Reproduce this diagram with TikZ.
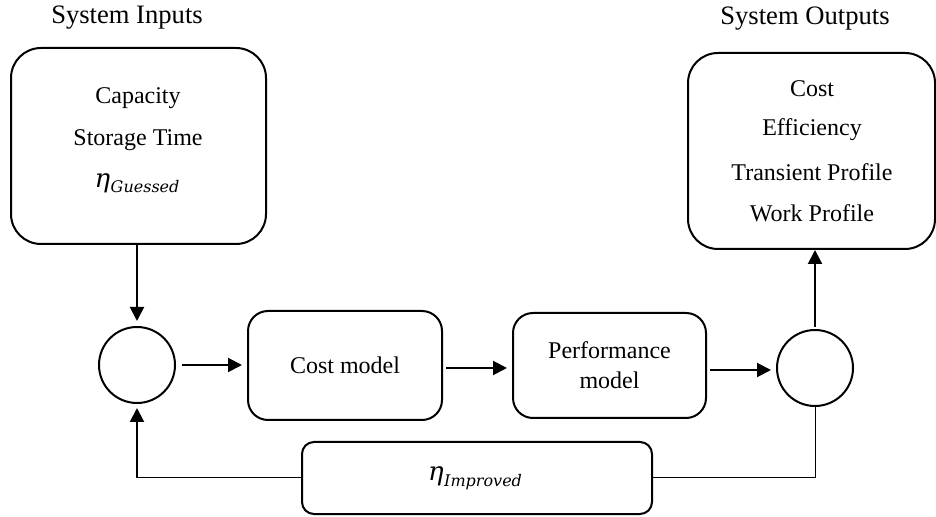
\documentclass[tikz,border=0pt]{standalone}
\usepackage{fontspec}
\setmainfont{Liberation Serif}
\newfontfamily\etafont{DejaVu Serif}
\usetikzlibrary{arrows.meta}
\newcommand{\etasub}[1]{{\etafont\itshape\fontsize{13}{14}\selectfont η}\kern0.3pt\raisebox{-2.8pt}{\etafont\itshape\fontsize{8}{9}\selectfont #1}}
\begin{document}
\begin{tikzpicture}[x=0.5pt,y=-0.5pt,
  font=\fontsize{12}{14}\selectfont,
  bigbox/.style={draw,line width=1pt,rounded corners=15pt,inner sep=0pt},
  modbox/.style={draw,line width=1pt,rounded corners=10pt,inner sep=0pt,align=center},
  sumnode/.style={draw,line width=1pt,circle,minimum size=38pt,inner sep=0pt},
  txt/.style={inner sep=0pt,align=center},
  title/.style={inner sep=0pt,font=\fontsize{13.3}{15}\selectfont},
  arr/.style={line width=1pt,-{Triangle[length=7pt,width=7pt]}},
  thinline/.style={line width=0.5pt}]
\useasboundingbox (0,0) rectangle (936,517);
% titles
\node[title] (tin) at (127,18) {System Inputs};
\node[title] (tout) at (805,19) {System Outputs};
% input box
\node[bigbox,minimum width=127.5pt,minimum height=98pt] (in) at (138.5,146) {};
\node[txt] (in1) at (138,98) {Capacity};
\node[txt] (in2) at (138,140) {Storage Time};
\node[txt] (in3) at (137,183) {\etasub{Guessed}};
% output box
\node[bigbox,minimum width=123.5pt,minimum height=98pt] (out) at (811.5,151) {};
\node[txt] (o1) at (812,89) {Cost};
\node[txt] (o2) at (812,130) {Efficiency};
\node[txt] (o3) at (812,172) {Transient Profile};
\node[txt] (o4) at (812,213) {Work Profile};
% circles
\node[sumnode] (c1) at (137,365) {};
\node[sumnode] (c2) at (815,368) {};
% model boxes
\node[modbox,minimum width=97pt,minimum height=54.5pt] (cost) at (345,365.5) {Cost model};
\node[modbox,minimum width=96.5pt,minimum height=52.5pt] (perf) at (609.5,365.5) {Performance\\[1pt]model};
% eta improved
\node[modbox,rounded corners=6pt,minimum width=175pt,minimum height=36pt] (eta) at (477,478) {};
\node[txt] (etat) at (475,478) {\etasub{Improved}};
% connectors
\draw[arr,shorten >=2.5pt] (c1.north |- in.south) -- (c1.north);
\draw[arr,shorten <=3pt,shorten >=2.5pt] (c1.east) -- (c1.east -| cost.west);
\draw[arr,shorten <=1.5pt,shorten >=2.5pt] (cost.east |- 0,368) -- (perf.west |- 0,368);
\draw[arr,shorten <=1.5pt,shorten >=2.5pt] (perf.east |- 0,370) -- (c2.west |- 0,370);
\draw[arr,shorten <=1pt] (c2.north) -- (c2.north |- out.south);
\draw[thinline] (c2.south) |- (eta.east);
\coordinate (fbl) at (c1.south |- eta.west);
\draw[thinline] (eta.west) -- (fbl);
\draw[arr,shorten >=2pt] (fbl) -- (c1.south);
\end{tikzpicture}
\end{document}
